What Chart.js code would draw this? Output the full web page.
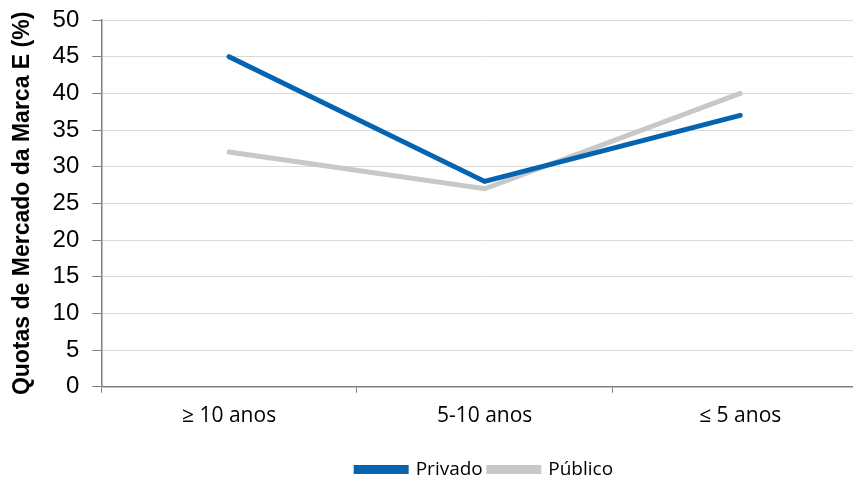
<!DOCTYPE html>
<html>
<head>
<meta charset="utf-8">
<script src="https://cdn.jsdelivr.net/npm/chart.js@4"></script>
<style>
  html, body { margin: 0; padding: 0; background: #fff; overflow: hidden; }
  /* a área do gráfico prolonga-se para lá da margem direita */
  #wrap { width: 868px; height: 482px; }
</style>
</head>
<body>
<div id="wrap"><canvas id="chart"></canvas></div>
<script>
// faixas etárias e quotas de mercado (%)
const categories = ['\u2265 10 anos', '5-10 anos', '\u2264 5 anos'];
const privado = [45, 28, 37];
const publico = [32, 27, 40];

const axisColor = '#7f7f7f';
const gridColor = '#d9d9d9';

new Chart(document.getElementById('chart'), {
    type: 'line',
    data: {
        labels: categories,
        datasets: [
            {
                label: 'Privado',
                data: privado,
                borderColor: '#0563b0',
                backgroundColor: '#0563b0',
                borderWidth: 5,
                pointRadius: 0,
                borderCapStyle: 'round',
                tension: 0
            },
            {
                label: 'Público',
                data: publico,
                borderColor: '#c8c8c8',
                backgroundColor: '#c8c8c8',
                borderWidth: 5,
                pointRadius: 0,
                borderCapStyle: 'round',
                tension: 0
            }
        ]
    },
    options: {
        responsive: true,
        maintainAspectRatio: false,
        animation: false,
        layout: { padding: { top: 20, right: 0, bottom: -7, left: 9 } },
        plugins: {
            legend: {
                position: 'bottom',
                fullSize: false,
                labels: {
                    color: '#000',
                    boxWidth: 50,
                    boxHeight: 4,
                    padding: 6,
                    font: { family: '"Open Sans", sans-serif', size: 19 }
                }
            },
            tooltip: { enabled: false }
        },
        scales: {
            x: {
                offset: true,
                grid: {
                    offset: true,
                    drawOnChartArea: false,
                    drawTicks: true,
                    tickLength: 6,
                    tickColor: axisColor
                },
                border: { color: axisColor, width: 1.5 },
                ticks: {
                    color: '#000',
                    padding: 11,
                    font: { family: '"Open Sans", sans-serif', size: 21 }
                },
                afterFit: (scale) => { scale.height += 14; }
            },
            y: {
                min: 0,
                max: 50,
                ticks: {
                    stepSize: 5,
                    color: '#000',
                    padding: 13,
                    font: { family: '"Liberation Sans", Arial, sans-serif', size: 24 }
                },
                grid: {
                    color: gridColor,
                    tickColor: axisColor,
                    tickLength: 9
                },
                border: { color: axisColor, width: 1.5 },
                title: {
                    display: true,
                    text: 'Quotas de Mercado da Marca E (%)',
                    color: '#000',
                    padding: { top: 0, bottom: 3 },
                    font: { family: '"Liberation Sans", Arial, sans-serif', size: 23, weight: 'bold' }
                },
                // o topo fica na margem definida no layout
                afterFit: (scale) => { scale.paddingTop = 0; }
            }
        }
    }
});
</script>
</body>
</html>
